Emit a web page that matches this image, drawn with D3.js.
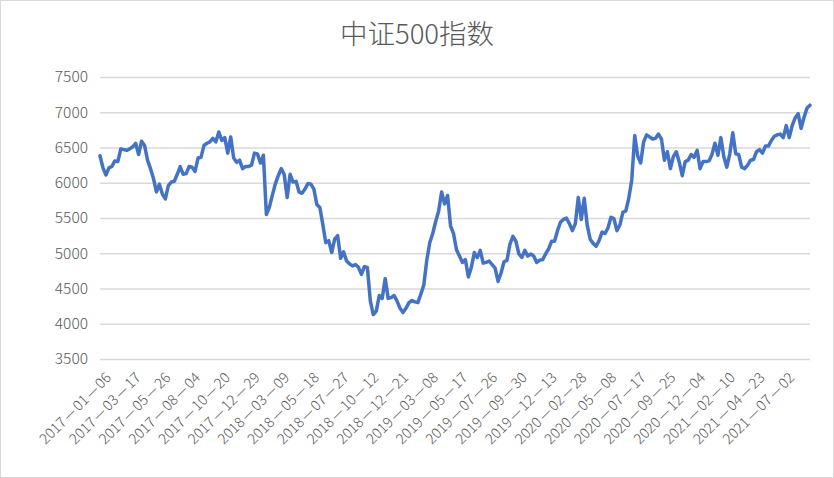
<!DOCTYPE html>
<html><head><meta charset="utf-8">
<script src="https://cdn.jsdelivr.net/npm/d3@7"></script>
<style>body{margin:0;background:#fff} svg{display:block}</style>
</head><body><svg id="c" width="834" height="478"></svg>
<script>
const title = "中证500指数";
const tickLabels = ["2017-01-06","2017-03-17","2017-05-26","2017-08-04","2017-10-20","2017-12-29",
  "2018-03-09","2018-05-18","2018-07-27","2018-10-12","2018-12-21","2019-03-08","2019-05-17",
  "2019-07-26","2019-09-30","2019-12-13","2020-02-28","2020-05-08","2020-07-17","2020-09-25",
  "2020-12-04","2021-02-10","2021-04-23","2021-07-02"];
const tickEvery = 10;
const yTicks = [3500,4000,4500,5000,5500,6000,6500,7000,7500];
const values = [
 6383,6210,6110,6210,6230,6310,6300,6480,6470,6460,6480,6510,6560,
 6400,6590,6530,6320,6200,6060,5870,5980,5840,5770,
 5960,6010,6020,6120,6230,6120,6130,6230,6220,6160,6350,6360,6530,6560,
 6580,6630,6580,6720,6600,6640,6420,6650,6350,6290,6320,6200,6230,6230,6250,6420,6410,6280,6390,5550,5650,5820,5980,6100,
 6200,6120,5790,6120,6010,6020,5870,5850,5910,5990,5980,5910,5690,5650,5410,5150,5180,5010,5200,5250,4930,5020,4890,4850,
 4820,4840,4800,4700,4810,4800,4320,4130,4180,4400,4360,4640,4360,4370,4400,4320,4220,4160,4220,4300,4330,4310,4300,4420,
 4550,4900,5150,5280,5450,5600,5870,5700,5820,5390,5280,5050,4960,4870,4910,4665,4800,5010,4940,5040,4860,4870,4890,4840,
 4790,4600,4720,4880,4900,5130,5240,5170,4990,4940,5040,4960,4990,4960,4870,4900,4910,4990,5060,5170,5170,5320,5440,5480,
 5500,5420,5320,5420,5790,5480,5780,5400,5200,5140,5100,5180,5300,5280,5360,5510,5490,5320,5400,5580,5600,5780,6040,6670,6380,6280,6580,6680,6650,
 6620,6630,6690,6620,6320,6440,6200,6370,6440,6290,6100,6300,6320,6400,6360,6460,6200,6300,6300,
 6310,6400,6560,6390,6640,6370,6220,6410,6710,6410,6400,6220,6200,6250,6320,6330,6440,6470,6420,6520,6520,6600,6660,6680,
 6690,6640,6810,6640,6810,6920,6980,6770,6930,7060,7100
];

const svg = d3.select("#c");
const W = 834, H = 478;
const font = "'Noto Sans CJK SC', 'Noto Sans', sans-serif";
const textCol = "#595959";

svg.append("rect").attr("x",0.5).attr("y",0.5).attr("width",W-1).attr("height",H-1)
  .attr("fill","#fff").attr("stroke","#D9D9D9").attr("stroke-width",1);

svg.append("text").attr("x",417).attr("y",44).attr("text-anchor","middle")
  .attr("font-family",font).attr("font-size",27.5).attr("font-weight",300)
  .attr("fill",textCol).text(title);

const x = d3.scaleLinear().domain([0, values.length-1]).range([100, 810]);
const y = d3.scaleLinear().domain([3500, 7500]).range([359, 77]);

// gridlines + y axis
const yAxis = d3.axisLeft(y).tickValues(yTicks).tickSize(-(810-100)).tickPadding(12)
  .tickFormat(d3.format("d"));
const gy = svg.append("g").attr("transform","translate(100,0)").call(yAxis);
gy.select(".domain").remove();
gy.selectAll(".tick line").attr("stroke","#D9D9D9").attr("stroke-width",1.4);
gy.selectAll(".tick text").attr("font-family",font).attr("font-size",15.5)
  .attr("font-weight",300).attr("fill",textCol);

// x axis
const tickIdx = tickLabels.map((d,i)=>i*tickEvery);
const xAxis = d3.axisBottom(x).tickValues(tickIdx).tickSize(0)
  .tickFormat((d,i)=>tickLabels[i]);
const gx = svg.append("g").attr("transform","translate(0,359)").call(xAxis);
gx.select(".domain").remove();
gx.selectAll(".tick text")
  .attr("font-family",font).attr("font-size",14.5).attr("font-weight",300).attr("fill",textCol)
  .attr("text-anchor","end")
  .attr("transform","translate(8,16) rotate(-45)")
  .attr("dy","0.35em").attr("y",0).attr("x",0)
  .each(function(){
    const t = d3.select(this);
    const parts = t.text().split("-");
    t.text(null);
    parts.forEach((p,k)=>{
      if(k>0) t.append("tspan").attr("dx",0.5)
        .attr("textLength",15).attr("lengthAdjust","spacingAndGlyphs").text("-");
      t.append("tspan").attr("dx",k>0?0.5:0).text(p);
    });
  });

// line
const line = d3.line().x((d,i)=>x(i)).y(d=>y(d));
svg.append("path").datum(values).attr("d",line).attr("fill","none")
  .attr("stroke","#4472C4").attr("stroke-width",3.5)
  .attr("stroke-linejoin","round").attr("stroke-linecap","round");
</script></body></html>
